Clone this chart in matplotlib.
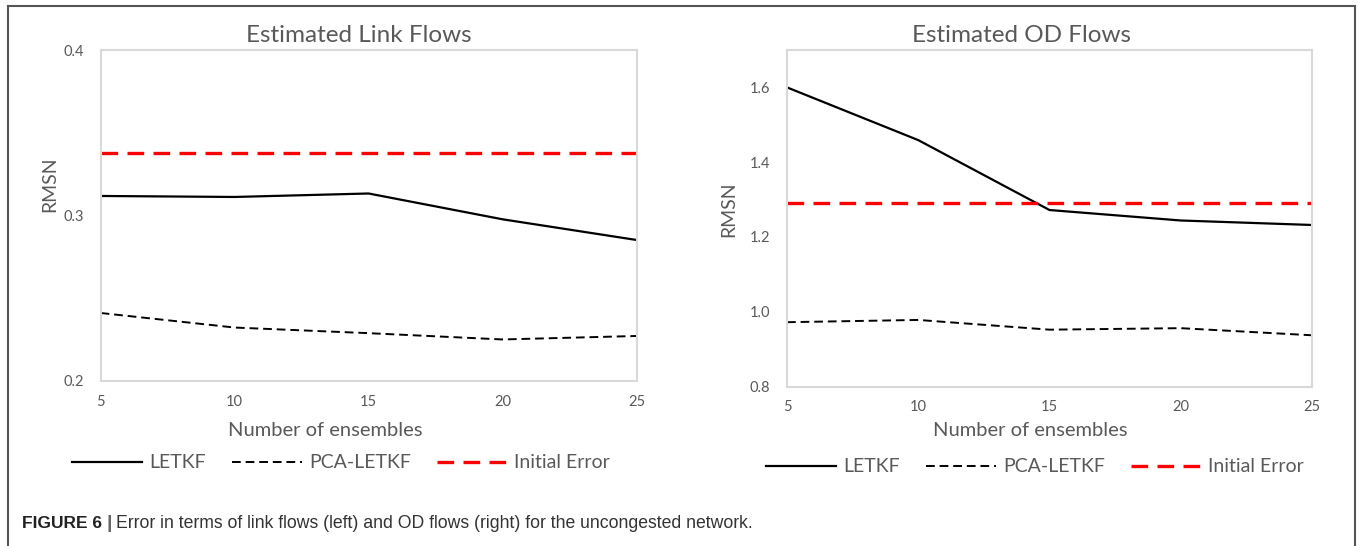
import numpy as np
import matplotlib
matplotlib.use("Agg")
import matplotlib.pyplot as plt
from matplotlib.lines import Line2D

# data
ensembles = [5, 10, 15, 20, 25]

link_letkf = [0.3118, 0.3112, 0.3133, 0.2977, 0.2852]
link_pca = [0.2411, 0.2323, 0.2289, 0.2251, 0.2272]
link_initial = 0.3378

od_letkf = [1.600, 1.459, 1.272, 1.244, 1.232]
od_pca = [0.972, 0.978, 0.952, 0.956, 0.937]
od_initial = 1.292

GRAY = "#595959"
FONT = "Lato"
W, H = 1358, 546

plt.rcParams["font.family"] = [FONT, "DejaVu Sans"]

fig = plt.figure(figsize=(W / 100, H / 100), dpi=100)


def px_axes(x0, y0, x1, y1):
    """Axes from pixel box (top-left origin)."""
    return fig.add_axes([x0 / W, 1 - y1 / H, (x1 - x0) / W, (y1 - y0) / H])


def style(ax, ylim, yticks, yfmt):
    ax.set_xlim(5, 25)
    ax.set_ylim(*ylim)
    ax.set_xticks(ensembles)
    ax.set_yticks(yticks)
    ax.set_yticklabels([yfmt.format(v) for v in yticks])
    ax.tick_params(length=0, labelsize=10.5, labelcolor=GRAY)
    ax.tick_params(axis="y", pad=12)
    ax.tick_params(axis="x", pad=10)
    for s in ax.spines.values():
        s.set_color("#d9d9d9")
        s.set_linewidth(1.5)


def draw(ax, letkf, pca, initial):
    ax.plot(ensembles, letkf, color="black", lw=1.6, label="LETKF")
    ax.plot(ensembles, pca, color="black", lw=1.4, dashes=(4.5, 2.5), label="PCA-LETKF")
    ax.axhline(initial, color="#ff0000", lw=2.4, dashes=(5, 2.8), label="Initial Error")


def legend(ax, cx, cy):
    h, l = ax.get_legend_handles_labels()
    fig.legend(h, l, loc="center", bbox_to_anchor=(cx / W, 1 - cy / H), ncol=3,
               frameon=False, fontsize=14, labelcolor=GRAY, handlelength=3.6,
               handletextpad=0.4, columnspacing=1.3)


def titles(cx_title, cx_xlabel, x_ylabel, y_ylabel, title):
    fig.text(cx_title / W, 1 - 35 / H, title, ha="center", va="center",
             fontsize=17.5, color=GRAY)
    fig.text(x_ylabel / W, 1 - y_ylabel / H, "RMSN", rotation=90, ha="center",
             va="center", fontsize=14, color=GRAY)
    fig.text(cx_xlabel / W, 1 - 430 / H, "Number of ensembles", ha="center",
             va="center", fontsize=14.5, color=GRAY)


# left panel: link flows
ax1 = px_axes(100.6, 50, 636.6, 381)
draw(ax1, link_letkf, link_pca, link_initial)
style(ax1, (0.2, 0.4), [0.2, 0.3, 0.4], "{:.1f}")
titles(358.6, 325.7, 50, 184, "Estimated Link Flows")
legend(ax1, 341, 463)

# right panel: OD flows
ax2 = px_axes(787, 50, 1312, 386.5)
draw(ax2, od_letkf, od_pca, od_initial)
style(ax2, (0.8, 1.7), [0.8, 1.0, 1.2, 1.4, 1.6], "{:.1f}")
titles(1021.5, 1030.6, 728.6, 209, "Estimated OD Flows")
legend(ax2, 1035, 467)

# outer frame (open at the bottom)
frame_kw = dict(color="#555555", lw=1.5, transform=fig.transFigure)
fig.add_artist(Line2D([8 / W, 8 / W], [0, 1 - 6 / H], **frame_kw))
fig.add_artist(Line2D([8 / W, 1355 / W], [1 - 6 / H, 1 - 6 / H], **frame_kw))
fig.add_artist(Line2D([1355 / W, 1355 / W], [0, 1 - 6 / H], **frame_kw))

# caption with bold label
cap_y = 1 - 523 / H
regular = ["Liberation Sans", "DejaVu Sans"]
t1 = fig.text(22 / W, cap_y, "FIGURE 6", fontsize=12.5, fontweight="bold",
              family=regular, color="#222222", va="center")
fig.canvas.draw()
r = fig.canvas.get_renderer()
x = t1.get_window_extent(r).x1 + 4
t2 = fig.text(x / W, cap_y, "|", fontsize=14, fontweight="bold", family=regular,
              color="#666666", va="center")
x = t2.get_window_extent(r).x1 + 4
fig.text(x / W, cap_y,
         "Error in terms of link flows (left) and OD flows (right) for the uncongested network.",
         fontsize=12.7, family=regular, color="#333333", va="center")

fig.savefig("out.png", dpi=100)
